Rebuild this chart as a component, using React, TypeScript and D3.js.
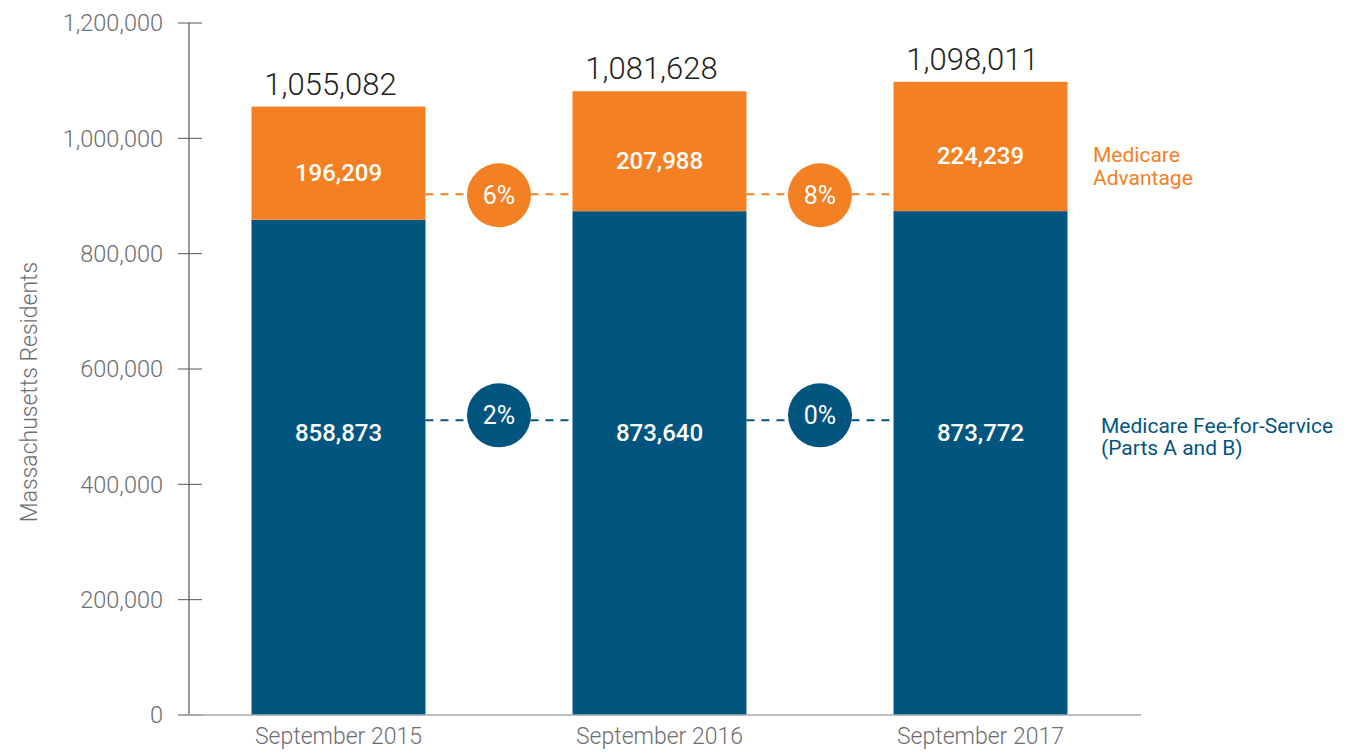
import * as d3 from 'd3';
import React from 'react';

const periods = ['September 2015', 'September 2016', 'September 2017'];
const feeForService = [858873, 873640, 873772];
const advantage = [196209, 207988, 224239];
const totals = [1055082, 1081628, 1098011];
const advantageGrowth = ['6%', '8%'];
const ffsGrowth = ['2%', '0%'];
const yTicks = [0, 200000, 400000, 600000, 800000, 1000000, 1200000];
// levels (in residents) where the growth connectors sit
const advantageLevel = 903000;
const ffsLevel = 511000;

const ORANGE = '#F48024';
const BLUE = '#02557F';
const GRAY = '#6d6e71';
const FONT = 'Roboto, "Liberation Sans", Arial, sans-serif';

const fmt = d3.format(',');

const App = () => {
  const width = 1348;
  const height = 752;

  const x = d3.scaleBand<string>()
    .domain(periods)
    .range([178, 1141])
    .paddingInner(0.458)
    .paddingOuter(0.229);

  const y = d3.scaleLinear()
    .domain([0, 1200000])
    .range([715, 23]);

  const bw = x.bandwidth();

  // positions between bars for the growth bubbles
  const gaps = periods.slice(0, -1).map((p, i) => {
    const left = (x(p) as number) + bw;
    const right = x(periods[i + 1]) as number;
    return { left, right, mid: (left + right) / 2 };
  });

  return (
    <svg width={width} height={height} style={{ position: 'absolute', left: 0, top: 0 }} fontFamily={FONT}>
      <rect width={width} height={height} fill="#fff" />

      {/* y axis */}
      <line x1={189} x2={189} y1={y(1200000)} y2={y(0)} stroke="#333" strokeWidth={1} />
      {yTicks.map(t => (
        <g key={t}>
          <line x1={178} x2={202} y1={y(t)} y2={y(t)} stroke="#555" strokeWidth={1} />
          <text x={163} y={y(t)} dy="0.36em" textAnchor="end" fontSize={23.5} fontWeight={300} fill={GRAY}>
            {fmt(t)}
          </text>
        </g>
      ))}
      <text
        transform={`translate(37,${y(560000)}) rotate(-90)`}
        textAnchor="middle"
        fontSize={23}
        fontWeight={300}
        fill={GRAY}
      >
        Massachusetts Residents
      </text>

      {/* bars */}
      {periods.map((p, i) => {
        const x0 = x(p) as number;
        const yFfs = y(feeForService[i]);
        const yTop = y(feeForService[i] + advantage[i]);
        return (
          <g key={p}>
            <rect x={x0} y={yFfs} width={bw} height={y(0) - yFfs} fill={BLUE} />
            <rect x={x0} y={yTop} width={bw} height={yFfs - yTop} fill={ORANGE} />
            <text x={x0 + bw / 2} y={(yTop + yFfs) / 2 + 9} dy="0.36em" textAnchor="middle" fontSize={24} fontWeight={500} fill="#fff">
              {fmt(advantage[i])}
            </text>
            <text x={x0 + bw / 2} y={y(ffsLevel) + 12} dy="0.36em" textAnchor="middle" fontSize={24} fontWeight={500} fill="#fff">
              {fmt(feeForService[i])}
            </text>
            <text x={x0 + bw / 2 - 8} y={y(totals[i]) - 12} textAnchor="middle" fontSize={31} fontWeight={300} fill="#231f20">
              {fmt(totals[i])}
            </text>
            <text x={x0 + bw / 2} y={744} textAnchor="middle" fontSize={23} fontWeight={300} fill={GRAY}>
              {p}
            </text>
          </g>
        );
      })}

      {/* x axis baseline */}
      <line x1={178} x2={1141} y1={y(0)} y2={y(0)} stroke="#a7a9ac" strokeWidth={1.5} />

      {/* growth connectors */}
      {gaps.map((g, i) => (
        <g key={i}>
          <line x1={g.left} x2={g.right} y1={y(advantageLevel)} y2={y(advantageLevel)} stroke={ORANGE} strokeWidth={2} strokeDasharray="8,7" />
          <circle cx={g.mid} cy={y(advantageLevel) + 1} r={32} fill={ORANGE} />
          <text x={g.mid} y={y(advantageLevel) + 1} dy="0.36em" textAnchor="middle" fontSize={25} fill="#fff">
            {advantageGrowth[i]}
          </text>
          <line x1={g.left} x2={g.right} y1={y(ffsLevel)} y2={y(ffsLevel)} stroke={BLUE} strokeWidth={2} strokeDasharray="8,7" />
          <circle cx={g.mid} cy={y(ffsLevel) - 5} r={32} fill={BLUE} />
          <text x={g.mid} y={y(ffsLevel) - 5} dy="0.36em" textAnchor="middle" fontSize={25} fill="#fff">
            {ffsGrowth[i]}
          </text>
        </g>
      ))}

      {/* legend */}
      <text x={1093} y={162} fontSize={21} fill={ORANGE}>
        <tspan x={1093}>Medicare</tspan>
        <tspan x={1093} dy={23}>Advantage</tspan>
      </text>
      <text x={1101} y={433} fontSize={21} fill={BLUE}>
        <tspan x={1101}>Medicare Fee-for-Service</tspan>
        <tspan x={1101} dy={22}>(Parts A and B)</tspan>
      </text>
    </svg>
  );
};

export default App;
